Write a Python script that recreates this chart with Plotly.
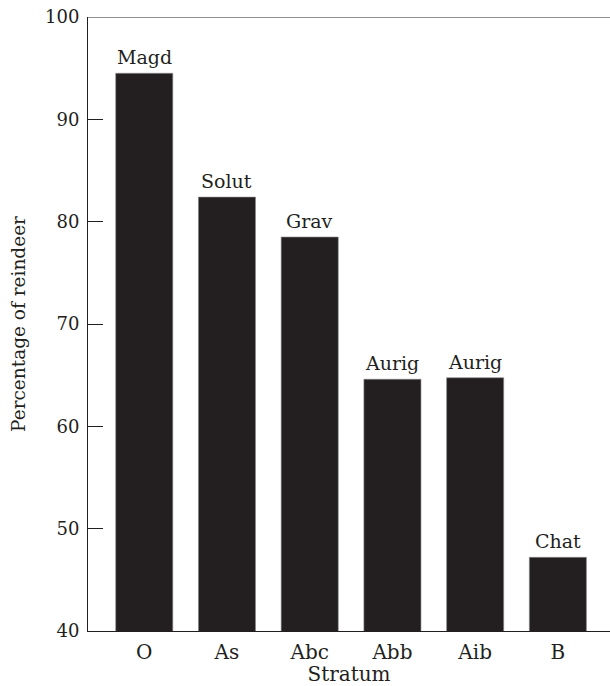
import plotly.graph_objects as go

# Reindeer share per stratum, with the industry label drawn above each bar
strata = ["O", "As", "Abc", "Abb", "Aib", "B"]
reindeer_pct = [94.5, 82.4, 78.5, 64.6, 64.75, 47.2]
industries = ["Magd", "Solut", "Grav", "Aurig", "Aurig", "Chat"]

ink = "#231f20"
serif = "DejaVu Serif"

fig = go.Figure()
fig.add_trace(go.Bar(
    x=list(range(len(strata))),
    y=reindeer_pct,
    width=0.69,
    marker=dict(color=ink, line=dict(color="#8a8a8a", width=0.6)),
    hoverinfo="skip",
))

for i, (val, lab) in enumerate(zip(reindeer_pct, industries)):
    fig.add_annotation(
        x=i, y=val, text=lab, showarrow=False,
        xanchor="center", yanchor="bottom", yshift=3,
        font=dict(family=serif, size=19, color=ink),
    )

# frame line along the top of the plot area
fig.add_shape(type="line", xref="x", yref="y",
              x0=-0.68, x1=5.63, y0=100, y1=100,
              line=dict(color=ink, width=1))

fig.update_layout(
    width=610, height=686,
    margin=dict(l=88, r=0, t=17, b=55),
    plot_bgcolor="white", paper_bgcolor="white",
    showlegend=False,
    font=dict(family=serif, size=19, color=ink),
)

fig.update_xaxes(
    range=[-0.68, 5.63],
    tickmode="array",
    tickvals=list(range(len(strata))),
    ticktext=strata,
    ticks="",
    showgrid=False, zeroline=False,
    showline=True, linecolor=ink, linewidth=1,
    ticklabelstandoff=3,
    title=dict(text="Stratum", standoff=2, font=dict(family=serif, size=20)),
    tickfont=dict(family=serif, size=20, color=ink),
)

fig.update_yaxes(
    range=[40, 100],
    tickmode="linear", tick0=40, dtick=10,
    ticks="inside", ticklen=15, tickcolor=ink, tickwidth=1,
    showgrid=False, zeroline=False,
    showline=True, linecolor=ink, linewidth=1,
    ticklabelstandoff=4,
    title=dict(text="Percentage of reindeer", standoff=14,
               font=dict(family=serif, size=18.5)),
    tickfont=dict(family=serif, size=18, color=ink),
)

fig.write_html("out.html")
